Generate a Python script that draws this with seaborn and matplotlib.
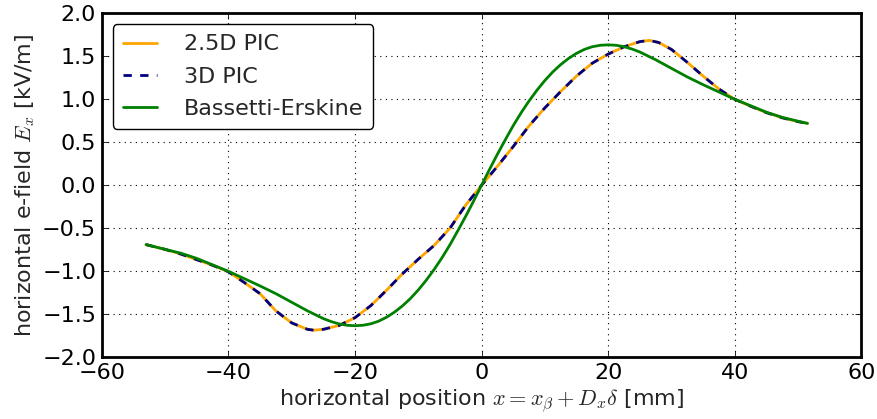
import matplotlib
matplotlib.use("Agg")
import matplotlib.pyplot as plt
import numpy as np
import pandas as pd
import seaborn as sns

# ---- data ----
x_pic = [-53, -50, -47.5, -45, -42.5, -40, -37.5, -35, -32.5, -30, -27.5, -26.5, -25,
         -22.5, -20, -17.5, -15, -12.5, -10, -7.5, -5, -2.5, 0, 2.5, 5, 7.5, 10, 12.5,
         15, 17.5, 20, 22.5, 25, 26.5, 28, 30, 32.5, 35, 37.5, 40, 42.5, 45, 47.5, 50, 51.5]
e_pic25 = [-0.69, -0.745, -0.80, -0.865, -0.93, -1.005, -1.13, -1.26, -1.46, -1.60, -1.675,
           -1.685, -1.675, -1.63, -1.54, -1.40, -1.22, -1.03, -0.86, -0.70, -0.50, -0.23,
           0.0, 0.22, 0.45, 0.69, 0.90, 1.09, 1.27, 1.42, 1.525, 1.61, 1.67, 1.685, 1.66,
           1.58, 1.43, 1.27, 1.12, 1.0, 0.92, 0.845, 0.785, 0.74, 0.72]
e_pic3d = [-0.69, -0.745, -0.80, -0.865, -0.93, -1.005, -1.13, -1.26, -1.46, -1.60, -1.675,
           -1.685, -1.675, -1.63, -1.54, -1.40, -1.22, -1.03, -0.86, -0.70, -0.50, -0.23,
           0.0, 0.22, 0.45, 0.69, 0.90, 1.09, 1.27, 1.42, 1.525, 1.61, 1.67, 1.685, 1.66,
           1.58, 1.43, 1.27, 1.12, 1.0, 0.92, 0.845, 0.785, 0.74, 0.72]
x_be = [-53, -50, -47.5, -45, -42.5, -40, -37.5, -35, -32.5, -30, -27.5, -25, -23.75,
        -22.5, -21.25, -20, -18.75, -17.5, -16.25, -15, -13.75, -12.5, -11.25, -10,
        -8.75, -7.5, -6.25, -5, -3.75, -2.5, -1.25, 0, 1.25, 2.5, 3.75, 5, 6.25, 7.5,
        8.75, 10, 11.25, 12.5, 13.75, 15, 16.25, 17.5, 18.75, 20, 21.25, 22.5, 23.75,
        25, 27.5, 30, 32.5, 35, 37.5, 40, 42.5, 45, 47.5, 50, 51.5]
e_be = [-0.69, -0.745, -0.79, -0.85, -0.925, -1.0, -1.085, -1.17, -1.26, -1.36, -1.46,
        -1.55, -1.585, -1.612, -1.628, -1.633, -1.628, -1.611, -1.58, -1.534, -1.475,
        -1.403, -1.318, -1.218, -1.105, -0.98, -0.843, -0.693, -0.529, -0.36, -0.183,
        0.0, 0.183, 0.36, 0.529, 0.693, 0.843, 0.98, 1.105, 1.218, 1.318, 1.403, 1.475,
        1.534, 1.58, 1.611, 1.628, 1.633, 1.628, 1.612, 1.585, 1.55, 1.46, 1.36, 1.26,
        1.17, 1.085, 1.0, 0.925, 0.85, 0.79, 0.745, 0.72]
labels = ["2.5D PIC", "3D PIC", "Bassetti-Erskine"]
x_ticks = [-60, -40, -20, 0, 20, 40, 60]
y_ticks = [-2.0, -1.5, -1.0, -0.5, 0.0, 0.5, 1.0, 1.5, 2.0]

df = pd.concat([
    pd.DataFrame({"x": x_pic, "E": e_pic25, "series": labels[0]}),
    pd.DataFrame({"x": x_pic, "E": e_pic3d, "series": labels[1]}),
    pd.DataFrame({"x": x_be, "E": e_be, "series": labels[2]}),
], ignore_index=True)

sns.set_style("ticks")
plt.rcParams.update({
    "font.family": ["DejaVu Sans"],
    "mathtext.fontset": "cm",
    "axes.linewidth": 2.0,
    "xtick.direction": "in",
    "ytick.direction": "in",
    "xtick.top": True,
    "ytick.right": True,
    "xtick.major.size": 4,
    "ytick.major.size": 4,
    "xtick.major.width": 0.6,
    "ytick.major.width": 0.6,
    "xtick.color": "black",
    "ytick.color": "black",
    "axes.edgecolor": "black",
})

fig = plt.figure(figsize=(8.78, 4.19), dpi=100)
ax = fig.add_axes([0.1159, 0.1473, 0.8651, 0.821])

palette = {labels[0]: "#FFA500", labels[1]: "#000080", labels[2]: "#008000"}
dashes = {labels[0]: "", labels[1]: (3, 3), labels[2]: ""}
sns.lineplot(data=df, x="x", y="E", hue="series", style="series", palette=palette,
             dashes=dashes, hue_order=labels, style_order=labels, sort=False,
             estimator=None, linewidth=2, ax=ax)

ax.set_xlim(-60, 60)
ax.set_ylim(-2.0, 2.0)
ax.set_xticks(x_ticks)
ax.set_yticks(y_ticks)
ax.set_yticklabels([f"{v:.1f}".replace("-", "\u2212") for v in y_ticks])
ax.set_xticklabels([str(v).replace("-", "\u2212") for v in x_ticks])
ax.tick_params(labelsize=16, pad=4)
ax.grid(True, color="black", linestyle=(0, (1, 4)), linewidth=0.8)
ax.set_xlabel(r"horizontal position $x = x_\beta + D_x\delta$ [mm]", fontsize=16, labelpad=3)
ax.set_ylabel(r"horizontal e-field $E_x$ [kV/m]", fontsize=16, labelpad=4)

h, l = ax.get_legend_handles_labels()
leg = ax.legend(h, l, loc="upper left", fontsize=16, frameon=True, fancybox=True,
                edgecolor="black", framealpha=1, handlelength=1.55, handletextpad=1.2,
                borderpad=0.45, labelspacing=0.55, borderaxespad=0.5)
leg.get_frame().set_linewidth(1.0)

fig.savefig("out.png", dpi=100, facecolor="white")
